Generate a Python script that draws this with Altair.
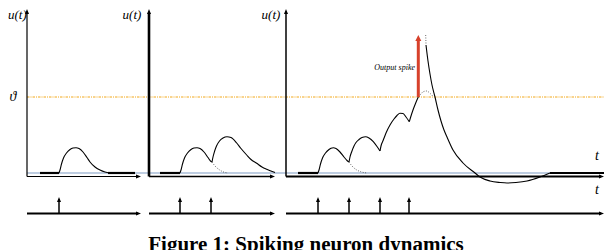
import altair as alt
import pandas as pd

# ---------------- data (time t, membrane potential u; rest = 0) ----------------
THRESHOLD = 76

# panel origins (time) and right ends of the time axes
panel_t0 = [27, 149, 286]
panel_t1 = [141, 275, 604]

# input spike times
spikes_p1 = [59]
spikes_p2 = [180, 211]
spikes_p3 = [318, 349, 380, 409]

# resting (flat) segments
rest_start = [40, 108, 160, 298, 550]
rest_end = [59, 135, 180, 318, 604]

# membrane potential, solid traces
p1_t = [59, 60, 61.5, 63.5, 66.5, 70, 73, 76, 79, 83, 87, 90, 95, 100, 105, 110]
p1_u = [0, 3, 9, 15, 20, 23.5, 25, 25.3, 24.5, 21, 15.5, 11, 6, 3, 1, 0]

p2a_t = [180, 181, 182.5, 184.5, 187.5, 191, 194, 197, 200, 204, 208, 211, 212]
p2a_u = [0, 3, 9, 15, 20, 23.5, 25, 25.3, 24.5, 21, 15.5, 11.5, 11]
p2b_t = [212, 213, 214.5, 216.5, 219.5, 223, 227, 231, 236.7, 241, 246.7, 251, 256.7, 262, 266.7, 275]
p2b_u = [11, 16, 21.5, 27, 32, 35, 36.3, 35.5, 30, 24.5, 18, 13.5, 9.7, 6, 3.7, 0.5]

p3a_t = [318, 319, 320.5, 322.5, 325.5, 329, 331, 333.3, 336, 340, 344, 347, 349]
p3a_u = [0, 3, 9, 15, 20, 23.5, 24.8, 25.3, 24.5, 21, 16, 12.5, 11]
p3b_t = [349, 350, 351.7, 354, 356, 359, 362, 365.7, 369, 373.3, 377, 380]
p3b_u = [11, 16, 21.3, 27, 30.5, 33.5, 35.5, 36.3, 35, 31.3, 26.5, 22]
p3c_t = [380, 381, 383.3, 386, 390, 394, 397, 400, 403, 406, 409.3]
p3c_u = [22, 27, 33, 40, 48, 54, 57.5, 59.7, 59.5, 56, 51.3]
p3d_t = [409.3, 411, 413, 415.5, 418.3]
p3d_u = [51.3, 57, 63, 69.5, 76]

spike_t = [426, 428, 430, 432, 435, 438, 441, 444, 447, 453, 463, 475, 480, 490, 500, 507, 516, 527, 540, 550]
spike_u = [128, 112, 99, 88, 76, 63, 52, 43, 36, 23, 10, 0, -4, -8, -9.5, -10, -9.5, -8, -4, 0]

# dotted (sub-threshold continuation) traces
d2_t = [212, 215, 219, 223, 228]
d2_u = [11, 7, 3.5, 1.2, 0]
d3a_t = [349, 352, 356, 361, 367]
d3a_u = [11, 7, 3.5, 1.2, 0]
d3b_t = [418.3, 420, 423.3, 426.7, 430, 433.3]
d3b_u = [76, 78, 81.3, 82, 79.7, 76.3]
dtop_t = [425.7, 426]
dtop_u = [138, 129]

# output spike
out_spike_t = 418.3
out_spike_top = 138

# ---------------- build tables ----------------
def trace(name, ts, us):
    return pd.DataFrame({"t": ts, "u": us, "seg": name, "i": range(len(ts))})

solid = pd.concat([
    trace("p1", p1_t, p1_u), trace("p2a", p2a_t, p2a_u), trace("p2b", p2b_t, p2b_u),
    trace("p3a", p3a_t, p3a_u), trace("p3b", p3b_t, p3b_u), trace("p3c", p3c_t, p3c_u),
    trace("p3d", p3d_t, p3d_u), trace("spike", spike_t, spike_u),
])
dotted = pd.concat([
    trace("d2", d2_t, d2_u), trace("d3a", d3a_t, d3a_u),
    trace("d3b", d3b_t, d3b_u), trace("dtop", dtop_t, dtop_u),
])

U_AXIS = -3.5      # time axis of the potential plots
U_IN = -40.5       # input spike train line
U_IN_TOP = -24     # tip of input spike arrows
U_TOP = 164        # tip of vertical axes

all_spikes = spikes_p1 + spikes_p2 + spikes_p3

X = alt.Scale(domain=[8, 604], nice=False, zero=False)
Y = alt.Scale(domain=[-77, 165], nice=False, zero=False)


def xe(f="t"):
    return alt.X(f"{f}:Q", scale=X, axis=None)


def ye(f="u"):
    return alt.Y(f"{f}:Q", scale=Y, axis=None)


UP = "M0,0L-0.8,2L0.8,2Z"
RIGHT = "M0,0L-2,-0.8L-2,0.8Z"

# threshold and baseline
threshold = alt.Chart(pd.DataFrame({"t": [27], "t2": [604], "u": [THRESHOLD]})).mark_rule(
    color="#f2a91c", strokeDash=[2.5, 1, 1, 1], strokeWidth=1
).encode(x=xe(), x2="t2", y=ye())
baseline = alt.Chart(pd.DataFrame({"t": [27], "t2": [604], "u": [0]})).mark_rule(
    color="#7f9cc4", strokeWidth=1.2
).encode(x=xe(), x2="t2", y=ye())

rest = alt.Chart(pd.DataFrame({"t": rest_start, "t2": rest_end, "u": [0] * len(rest_start)})).mark_rule(
    color="black", strokeWidth=2.2
).encode(x=xe(), x2="t2", y=ye())

solid_lines = alt.Chart(solid).mark_line(color="black", strokeWidth=1.1, interpolate="monotone").encode(
    x=xe(), y=ye(), detail="seg:N", order="i:Q"
)
dotted_lines = alt.Chart(dotted).mark_line(
    color="#444444", strokeWidth=0.8, strokeDash=[1, 1.5], interpolate="monotone"
).encode(x=xe(), y=ye(), detail="seg:N", order="i:Q")

# axes
vert_w = [1.2, 2.6, 1.5]
hor_w = [1.2, 1.5, 2.0]
vaxes = alt.Chart(pd.DataFrame({"t": panel_t0, "u": [U_AXIS] * 3, "u2": [U_TOP - 4] * 3, "w": vert_w})).mark_rule(
    color="black"
).encode(x=xe(), y=ye(), y2="u2", strokeWidth=alt.StrokeWidth("w:Q", scale=None))
haxes = alt.Chart(pd.DataFrame({"t": panel_t0, "t2": [e - 3 for e in panel_t1], "u": [U_AXIS] * 3, "w": hor_w})).mark_rule(
    color="black"
).encode(x=xe(), x2="t2", y=ye(), strokeWidth=alt.StrokeWidth("w:Q", scale=None))
inlines = alt.Chart(pd.DataFrame({"t": panel_t0, "t2": [e - 3 for e in panel_t1], "u": [U_IN] * 3})).mark_rule(
    color="black", strokeWidth=2
).encode(x=xe(), x2="t2", y=ye())

up_heads = alt.Chart(pd.DataFrame({"t": panel_t0, "u": [U_TOP] * 3})).mark_point(
    shape=UP, size=25, filled=True, color="black", opacity=1
).encode(x=xe(), y=ye())
right_heads = alt.Chart(pd.DataFrame({"t": panel_t1 * 2, "u": [U_AXIS] * 3 + [U_IN] * 3})).mark_point(
    shape=RIGHT, size=25, filled=True, color="black", opacity=1
).encode(x=xe(), y=ye())

# input spikes
in_shafts = alt.Chart(pd.DataFrame({"t": all_spikes, "u": [U_IN] * len(all_spikes), "u2": [U_IN_TOP - 2] * len(all_spikes)})).mark_rule(
    color="black", strokeWidth=1.5
).encode(x=xe(), y=ye(), y2="u2")
in_heads = alt.Chart(pd.DataFrame({"t": all_spikes, "u": [U_IN_TOP] * len(all_spikes)})).mark_point(
    shape=UP, size=25, filled=True, color="black", opacity=1
).encode(x=xe(), y=ye())

# output spike (red arrow)
out_shaft = alt.Chart(pd.DataFrame({"t": [out_spike_t], "u": [THRESHOLD], "u2": [out_spike_top - 4]})).mark_rule(
    color="#d7412b", strokeWidth=3
).encode(x=xe(), y=ye(), y2="u2")
out_head = alt.Chart(pd.DataFrame({"t": [out_spike_t], "u": [out_spike_top]})).mark_point(
    shape="M0,0L-1,2L1,2Z", size=36, filled=True, color="#d7412b", opacity=1
).encode(x=xe(), y=ye())

# texts
serif = "Liberation Serif"
lab_df = pd.DataFrame({
    "t": [8, 132, 271],
    "u": [165, 165, 165],
    "txt": ["u(t)", "u(t)", "u(t)"],
})
ulabels = alt.layer(
    alt.Chart(lab_df.iloc[:1]).mark_text(font=serif, fontStyle="italic", fontSize=13, baseline="top", align="left", dy=0.5).encode(
        x=xe(), y=ye(), text="txt:N"),
    alt.Chart(lab_df.iloc[1:]).mark_text(font=serif, fontStyle="italic", fontSize=13, baseline="top", align="center", dy=0.5).encode(
        x=xe(), y=ye(), text="txt:N"),
)
theta = alt.Chart(pd.DataFrame({"t": [13], "u": [THRESHOLD], "txt": ["ϑ"]})).mark_text(
    font=serif, fontStyle="italic", fontSize=14, baseline="middle", align="center"
).encode(x=xe(), y=ye(), text="txt:N")
tlabels = alt.Chart(pd.DataFrame({"t": [597, 597], "u": [17, -17], "txt": ["t", "t"]})).mark_text(
    font=serif, fontStyle="italic", fontSize=14, baseline="middle", align="center"
).encode(x=xe(), y=ye(), text="txt:N")
out_label = alt.Chart(pd.DataFrame({"t": [415], "u": [105], "txt": ["Output spike"]})).mark_text(
    font=serif, fontStyle="italic", fontSize=8, baseline="middle", align="right"
).encode(x=xe(), y=ye(), text="txt:N")
caption = alt.Chart(pd.DataFrame({"t": [306], "u": [-78], "txt": ["Figure 1: Spiking neuron dynamics"]})).mark_text(
    font=serif, fontWeight="bold", fontSize=21, baseline="alphabetic", align="center"
).encode(x=xe(), y=ye(), text="txt:N")

chart = alt.layer(
    threshold, baseline, dotted_lines, solid_lines, rest, vaxes, haxes, inlines,
    up_heads, right_heads, in_shafts, in_heads, out_shaft, out_head,
    ulabels, theta, tlabels, out_label, caption,
).properties(
    width=596, height=242, autosize="none", padding=0, background="white"
).configure_view(stroke=None)

chart.save("out.html", embed_options={"renderer": "svg", "actions": False})
